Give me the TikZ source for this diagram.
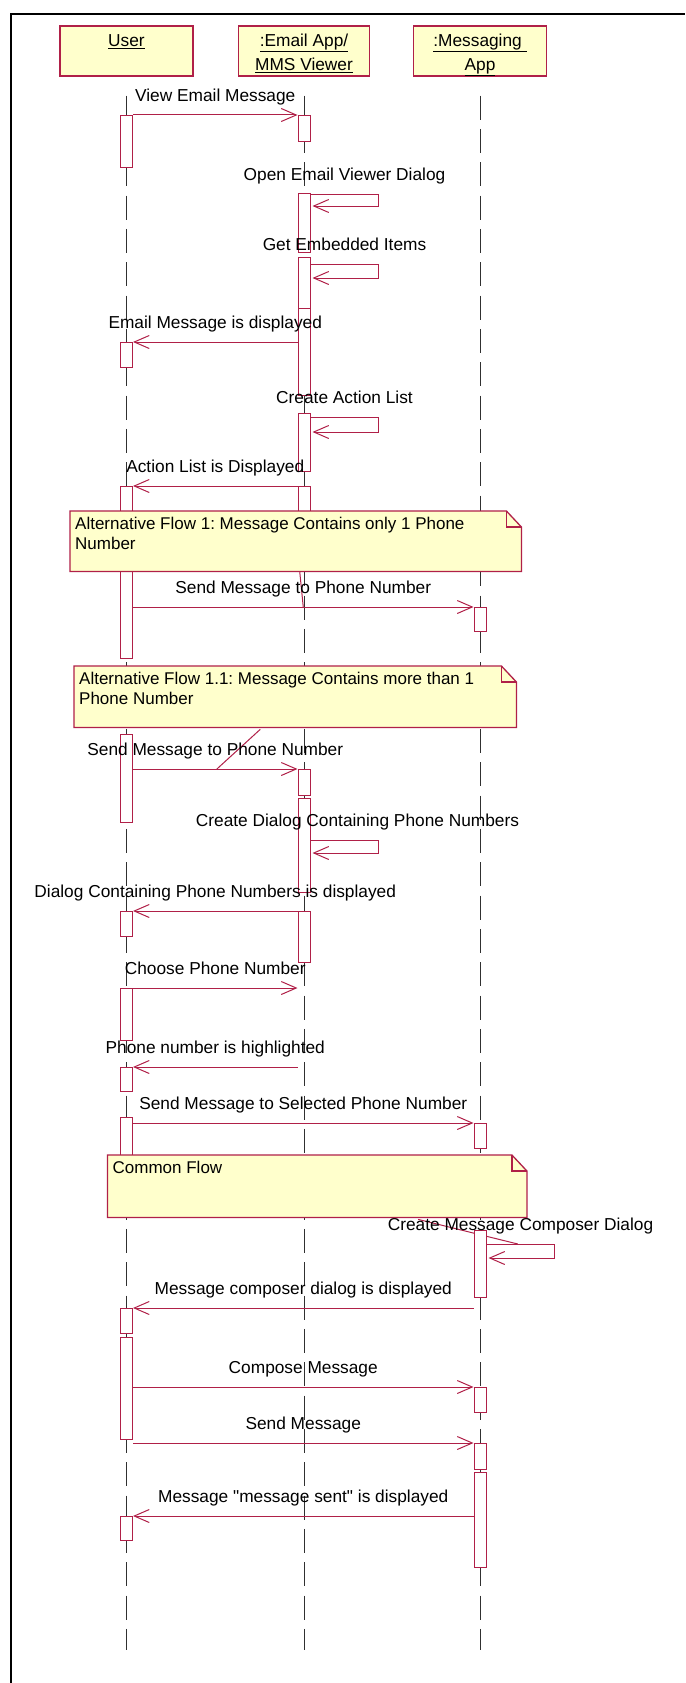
\documentclass[tikz,border=0pt]{standalone}
\usepackage{fontspec}
\setmainfont{Liberation Sans}
\usetikzlibrary{arrows.meta,backgrounds}
\definecolor{RoseRed}{RGB}{176,32,72}
\definecolor{NoteYellow}{RGB}{255,255,204}
\definecolor{LifeGray}{RGB}{48,48,48}
\frenchspacing

\begin{document}
\begin{tikzpicture}[x=1pt,y=-1pt,
txt/.style={font=\fontsize{17.3pt}{23.5pt}\selectfont},
head/.style={txt,draw=RoseRed,fill=NoteYellow,line width=1.3pt,minimum width=133pt,minimum height=50pt,align=center,inner sep=0pt},
act/.style={draw=RoseRed,fill=white,line width=1pt,minimum width=12pt,inner sep=0pt,anchor=north},
life/.style={draw=LifeGray,line width=1pt,dash pattern=on 24pt off 9.33pt},
msg/.style={draw=RoseRed,line width=1pt,-{Straight Barb[length=15pt,width=13pt]}},
lbl/.style={txt,anchor=base,yshift=13.5pt,inner sep=0pt},
note/.style={fill=NoteYellow,anchor=north west,inner sep=0pt},
notebd/.style={draw=RoseRed,line width=1.3pt},
notelbl/.style={anchor=north west,align=left,inner xsep=5pt,inner ysep=6pt,font=\fontsize{17pt}{20pt}\selectfont},
anc/.style={draw=RoseRed,line width=1pt}]

\useasboundingbox (0,0) rectangle (685,1683);
\begin{scope}[on background layer]
\fill[white] (0,0) rectangle (685,1683);
\end{scope}
\draw[line width=2pt] (10.7,1683) |- (685,14.2);

\node[head] (user) at (126.5,51) {\rule{0pt}{14.8pt}\smash{\underline{User}}\\\mbox{}};
\node[head,minimum width=130.5pt] (email) at (304,51) {\rule{0pt}{14.8pt}\smash{\underline{:Email App/}}\\\smash{\underline{MMS Viewer}}};
\node[head] (msgapp) at (480,51) {\rule{0pt}{14.8pt}\smash{\underline{:Messaging\ }}\\\smash{\underline{App}}};
\coordinate (bottom) at (0,1650);

\draw[life] ([yshift=-19pt]user.south) -- (user.south |- bottom);
\draw[life] ([yshift=-19pt]email.south) -- (email.south |- bottom);
\draw[life] ([yshift=-19pt]msgapp.south) -- (msgapp.south |- bottom);

\node[act,minimum height=52pt] (u1) at (126.5,115) {};
\node[act,minimum height=25pt] (u2) at (126.5,342) {};
\node[act,minimum height=172pt] (u3) at (126.5,486) {};
\node[act,minimum height=88pt] (u4) at (126.5,734) {};
\node[act,minimum height=25pt] (u5) at (126.5,911) {};
\node[act,minimum height=52pt] (u6) at (126.5,988) {};
\node[act,minimum height=24pt] (u7) at (126.5,1067) {};
\node[act,minimum height=43pt] (u8) at (126.5,1117) {};
\node[act,minimum height=25pt] (u9) at (126.5,1308) {};
\node[act,minimum height=102pt] (u10) at (126.5,1337) {};
\node[act,minimum height=24pt] (u11) at (126.5,1516) {};

\node[act,minimum height=26pt] (e1) at (304,115) {};
\node[act,minimum height=59pt] (e2) at (304,193) {};
\node[act,minimum height=51pt] (e3) at (304,257) {};
\node[act,minimum height=87pt] (e4) at (304,308) {};
\node[act,minimum height=58pt] (e5) at (304,413) {};
\node[act,minimum height=30pt] (e6) at (304,486) {};
\node[act,minimum height=26pt] (e7) at (304,769) {};
\node[act,minimum height=94pt] (e8) at (304,798) {};
\node[act,minimum height=51pt] (e9) at (304,911) {};

\node[act,minimum height=24pt] (m1) at (480,607) {};
\node[act,minimum height=25pt] (m2) at (480,1123) {};
\node[act,minimum height=67pt] (m3) at (480,1230) {};
\node[act,minimum height=25pt] (m4) at (480,1387) {};
\node[act,minimum height=26pt] (m5) at (480,1443) {};
\node[act,minimum height=95pt] (m6) at (480,1472) {};

\draw[msg] (u1.north east) -- node[lbl]{View Email Message} (e1.north west);
\draw[msg] (e2.north east) ++(0,1) -- node[lbl]{Open Email Viewer Dialog} ++(68,0) -- ++(0,12) -- ++(-66,0);
\draw[msg] (e3.north east) ++(0,7) -- node[lbl]{Get Embedded Items} ++(68,0) -- ++(0,14) -- ++(-66,0);
\draw[msg] (e4.west |- u2.north) -- node[lbl]{Email Message is displayed} (u2.north east);
\draw[msg] (e5.north east) ++(0,4) -- node[lbl]{Create Action List} ++(68,0) -- ++(0,15) -- ++(-66,0);
\draw[msg] (e6.north west) -- node[lbl]{Action List is Displayed} (u3.north east);
\draw[msg] (u3.east |- m1.north) -- node[lbl]{Send Message to Phone Number} coordinate[pos=0.5] (a1) (m1.north west);
\draw[msg] (u4.east |- e7.north) -- node[lbl]{Send Message to Phone Number} coordinate[pos=0.51] (a2) (e7.north west);
\draw[msg] (e8.north east) ++(0,42) -- node[lbl,xshift=13pt]{Create Dialog Containing Phone Numbers} ++(68,0) -- ++(0,13) -- ++(-66,0);
\draw[msg] (e9.north west) -- node[lbl]{Dialog Containing Phone Numbers is displayed} (u5.north east);
\draw[msg] (u6.north east) -- node[lbl]{Choose Phone Number} (u6.north -| e9.west);
\draw[msg] (e9.west |- u7.north) -- node[lbl]{Phone number is highlighted} (u7.north east);
\draw[msg] (u8.east |- m2.north) -- node[lbl]{Send Message to Selected Phone Number} (m2.north west);
\draw[msg] (m3.north east) ++(0,14) -- node[lbl]{Create Message Composer Dialog} coordinate[pos=0.46] (a3) ++(68,0) -- ++(0,14) -- ++(-66,0);
\draw[msg] (m3.west |- u9.north) -- node[lbl]{Message composer dialog is displayed} (u9.north east);
\draw[msg] (u10.east |- m4.north) -- node[lbl]{Compose Message} (m4.north west);
\draw[msg] (u10.east |- m5.north) -- node[lbl]{Send Message} (m5.north west);
\draw[msg] (m6.west |- u11.north) -- node[lbl]{Message \textquotedbl message sent\textquotedbl{} is displayed} (u11.north east);

\node[note,minimum width=451pt,minimum height=60pt] (alt1) at (70,511) {};
\fill[white] ([xshift=-15pt]alt1.north east) -- (alt1.north east) -- ([yshift=-16pt]alt1.north east) -- cycle;
\draw[notebd] (alt1.north west) -- ([xshift=-15pt]alt1.north east) -- ([yshift=-16pt]alt1.north east) |- (alt1.south west) -- cycle;
\draw[notebd] ([xshift=-15pt]alt1.north east) |- ([yshift=-16pt]alt1.north east);
\node[notelbl] (alt1txt) at (alt1.north west) {Alternative Flow 1: Message Contains only 1 Phone\\Number};

\node[note,minimum width=442pt,minimum height=61pt] (alt2) at (74,666) {};
\fill[white] ([xshift=-15pt]alt2.north east) -- (alt2.north east) -- ([yshift=-16pt]alt2.north east) -- cycle;
\draw[notebd] (alt2.north west) -- ([xshift=-15pt]alt2.north east) -- ([yshift=-16pt]alt2.north east) |- (alt2.south west) -- cycle;
\draw[notebd] ([xshift=-15pt]alt2.north east) |- ([yshift=-16pt]alt2.north east);
\node[notelbl] (alt2txt) at (alt2.north west) {Alternative Flow 1.1: Message Contains more than 1\\Phone Number};

\node[note,minimum width=419pt,minimum height=62pt] (common) at (107.5,1155) {};
\fill[white] ([xshift=-15pt]common.north east) -- (common.north east) -- ([yshift=-16pt]common.north east) -- cycle;
\draw[notebd] (common.north west) -- ([xshift=-15pt]common.north east) -- ([yshift=-16pt]common.north east) |- (common.south west) -- cycle;
\draw[notebd] ([xshift=-15pt]common.north east) |- ([yshift=-16pt]common.north east);
\node[notelbl] (commontxt) at (common.north west) {Common Flow};

\begin{scope}[on background layer]
\draw[anc] ([xshift=4pt]alt1.south) -- (a1);
\draw[anc] ([xshift=-35pt,yshift=-2pt]alt2.south) -- (a2);
\draw[anc] ([xshift=101pt,yshift=-2pt]common.south) -- (a3);
\end{scope}

\end{tikzpicture}
\end{document}
